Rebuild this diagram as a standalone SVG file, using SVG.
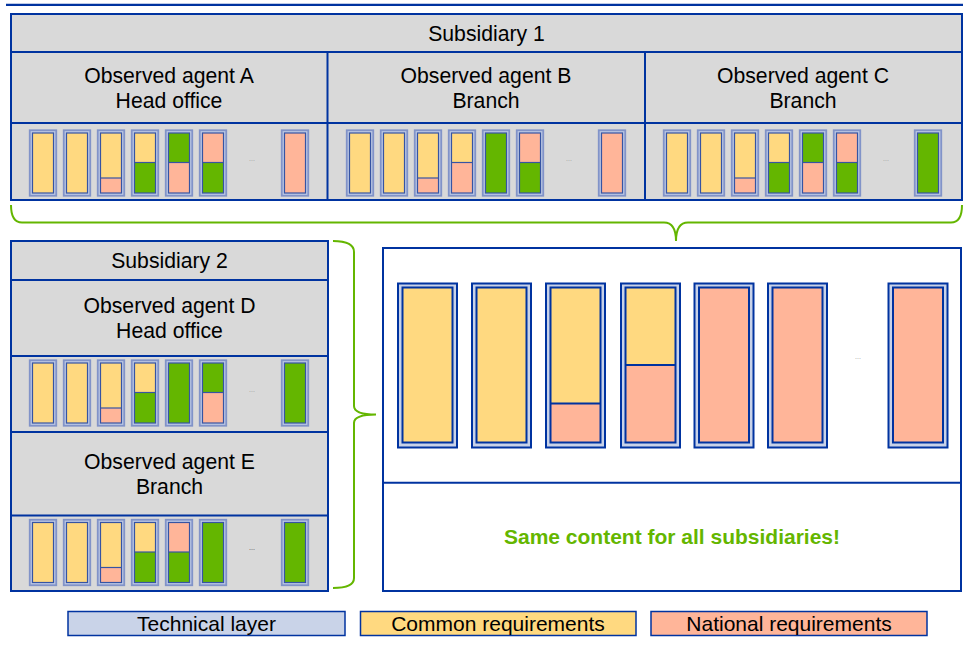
<svg xmlns="http://www.w3.org/2000/svg" xmlns:xlink="http://www.w3.org/1999/xlink" width="963" height="657" viewBox="0 0 963 657">
<style>
.box{fill:#d9d9d9;stroke:#0033a0;stroke-width:2}
.ln{stroke:#0033a0;stroke-width:2;fill:none}
.t{font-family:"Liberation Sans",Arial,sans-serif;font-size:21.2px;fill:#000;text-anchor:middle}
.lg{font-family:"Liberation Sans",Arial,sans-serif;font-size:21px;fill:#000;text-anchor:middle}
.so{fill:#bcc8e4;stroke:#8193c8;stroke-width:1.8}
.si{fill:none;stroke:#3654a3;stroke-width:1.2}
.bo{fill:#c8d2e8;stroke:#0033a0;stroke-width:2}
.bi{fill:none;stroke:#0033a0;stroke-width:2}
.y{fill:#ffd980}.p{fill:#ffb599}.g{fill:#64b600}
.br{fill:none;stroke:#64b600;stroke-width:2}
.dots{font-family:"Liberation Sans",Arial,sans-serif;font-size:7px;fill:#999;text-anchor:middle}
</style>
<defs>
<symbol id="sY" overflow="visible"><rect class="so" x="0.75" y="0.75" width="26.5" height="65.5"/><rect class="y" x="3.5" y="3.5" width="21" height="60"/><rect class="si" x="3.5" y="3.5" width="21" height="60"/></symbol>
<symbol id="sG" overflow="visible"><rect class="so" x="0.75" y="0.75" width="26.5" height="65.5"/><rect class="g" x="3.5" y="3.5" width="21" height="60"/><rect class="si" x="3.5" y="3.5" width="21" height="60"/></symbol>
<symbol id="sP" overflow="visible"><rect class="so" x="0.75" y="0.75" width="26.5" height="65.5"/><rect class="p" x="3.5" y="3.5" width="21" height="60"/><rect class="si" x="3.5" y="3.5" width="21" height="60"/></symbol>
<symbol id="sYP" overflow="visible"><rect class="so" x="0.75" y="0.75" width="26.5" height="65.5"/><rect class="y" x="3.5" y="3.5" width="21" height="45"/><rect class="p" x="3.5" y="48.5" width="21" height="15"/><rect class="si" x="3.5" y="3.5" width="21" height="60"/><line class="si" x1="3.5" y1="48.5" x2="24.5" y2="48.5"/></symbol>
<symbol id="sYG" overflow="visible"><rect class="so" x="0.75" y="0.75" width="26.5" height="65.5"/><rect class="y" x="3.5" y="3.5" width="21" height="29.5"/><rect class="g" x="3.5" y="33" width="21" height="30.5"/><rect class="si" x="3.5" y="3.5" width="21" height="60"/><line class="si" x1="3.5" y1="33" x2="24.5" y2="33"/></symbol>
<symbol id="sYPh" overflow="visible"><rect class="so" x="0.75" y="0.75" width="26.5" height="65.5"/><rect class="y" x="3.5" y="3.5" width="21" height="29.5"/><rect class="p" x="3.5" y="33" width="21" height="30.5"/><rect class="si" x="3.5" y="3.5" width="21" height="60"/><line class="si" x1="3.5" y1="33" x2="24.5" y2="33"/></symbol>
<symbol id="sGP" overflow="visible"><rect class="so" x="0.75" y="0.75" width="26.5" height="65.5"/><rect class="g" x="3.5" y="3.5" width="21" height="29.5"/><rect class="p" x="3.5" y="33" width="21" height="30.5"/><rect class="si" x="3.5" y="3.5" width="21" height="60"/><line class="si" x1="3.5" y1="33" x2="24.5" y2="33"/></symbol>
<symbol id="sPG" overflow="visible"><rect class="so" x="0.75" y="0.75" width="26.5" height="65.5"/><rect class="p" x="3.5" y="3.5" width="21" height="29.5"/><rect class="g" x="3.5" y="33" width="21" height="30.5"/><rect class="si" x="3.5" y="3.5" width="21" height="60"/><line class="si" x1="3.5" y1="33" x2="24.5" y2="33"/></symbol>
<symbol id="bY" overflow="visible"><rect class="bo" x="1" y="1" width="59" height="164"/><rect class="y" x="5.5" y="5" width="50" height="155"/><rect class="bi" x="5.5" y="5" width="50" height="155"/></symbol>
<symbol id="bP" overflow="visible"><rect class="bo" x="1" y="1" width="59" height="164"/><rect class="p" x="5.5" y="5" width="50" height="155"/><rect class="bi" x="5.5" y="5" width="50" height="155"/></symbol>
<symbol id="bYP" overflow="visible"><rect class="bo" x="1" y="1" width="59" height="164"/><rect class="y" x="5.5" y="5" width="50" height="116"/><rect class="p" x="5.5" y="121" width="50" height="39"/><rect class="bi" x="5.5" y="5" width="50" height="155"/><line class="bi" x1="5.5" y1="121" x2="55.5" y2="121"/></symbol>
<symbol id="bYPh" overflow="visible"><rect class="bo" x="1" y="1" width="59" height="164"/><rect class="y" x="5.5" y="5" width="50" height="77.5"/><rect class="p" x="5.5" y="82.5" width="50" height="77.5"/><rect class="bi" x="5.5" y="5" width="50" height="155"/><line class="bi" x1="5.5" y1="82.5" x2="55.5" y2="82.5"/></symbol>
</defs>
<rect width="963" height="657" fill="#fff"/>
<line x1="6" y1="4.8" x2="963" y2="4.8" stroke="#0033a0" stroke-width="2.2"/>

<g id="subsidiary1">
<rect class="box" x="11" y="14" width="951" height="186"/>
<line class="ln" x1="11" y1="52" x2="962" y2="52"/>
<line class="ln" x1="11" y1="123" x2="962" y2="123"/>
<line class="ln" x1="327.5" y1="52" x2="327.5" y2="200"/>
<line class="ln" x1="645" y1="52" x2="645" y2="200"/>
<text class="t" x="486.5" y="41">Subsidiary 1</text>
</g>
<g id="agentA">
<text class="t" x="169" y="82.5">Observed agent A</text>
<text class="t" x="169" y="108">Head office</text>
<use href="#sY" x="29" y="129.5"/><use href="#sY" x="63" y="129.5"/><use href="#sYP" x="97" y="129.5"/><use href="#sYG" x="131" y="129.5"/><use href="#sGP" x="165" y="129.5"/><use href="#sPG" x="199" y="129.5"/><use href="#sP" x="281" y="129.5"/>
<text class="dots" x="252" y="161">...</text>
</g>
<g id="agentB">
<text class="t" x="486" y="82.5">Observed agent B</text>
<text class="t" x="486" y="108">Branch</text>
<use href="#sY" x="346" y="129.5"/><use href="#sY" x="380" y="129.5"/><use href="#sYP" x="414" y="129.5"/><use href="#sYPh" x="448" y="129.5"/><use href="#sG" x="482" y="129.5"/><use href="#sPG" x="516" y="129.5"/><use href="#sP" x="598" y="129.5"/>
<text class="dots" x="569" y="161">...</text>
</g>
<g id="agentC">
<text class="t" x="803" y="82.5">Observed agent C</text>
<text class="t" x="803" y="108">Branch</text>
<use href="#sY" x="663" y="129.5"/><use href="#sY" x="697" y="129.5"/><use href="#sYP" x="731" y="129.5"/><use href="#sYG" x="765" y="129.5"/><use href="#sGP" x="799" y="129.5"/><use href="#sPG" x="833" y="129.5"/><use href="#sG" x="914" y="129.5"/>
<text class="dots" x="886" y="161">...</text>
</g>

<g id="subsidiary2">
<rect class="box" x="11" y="241" width="317" height="350"/>
<line class="ln" x1="11" y1="280" x2="328" y2="280"/>
<line class="ln" x1="11" y1="356" x2="328" y2="356"/>
<line class="ln" x1="11" y1="432" x2="328" y2="432"/>
<line class="ln" x1="11" y1="515.5" x2="328" y2="515.5"/>
<text class="t" x="169.5" y="268">Subsidiary 2</text>
</g>
<g id="agentD">
<text class="t" x="169.5" y="312.5">Observed agent D</text>
<text class="t" x="169.5" y="337.5">Head office</text>
<use href="#sY" x="29" y="359.5"/><use href="#sY" x="63" y="359.5"/><use href="#sYP" x="97" y="359.5"/><use href="#sYG" x="131" y="359.5"/><use href="#sG" x="165" y="359.5"/><use href="#sGP" x="199" y="359.5"/><use href="#sG" x="281" y="359.5"/>
<text class="dots" x="252" y="392">...</text>
</g>
<g id="agentE">
<text class="t" x="169.5" y="469">Observed agent E</text>
<text class="t" x="169.5" y="494">Branch</text>
<use href="#sY" x="29" y="519"/><use href="#sY" x="63" y="519"/><use href="#sYP" x="97" y="519"/><use href="#sYG" x="131" y="519"/><use href="#sPG" x="165" y="519"/><use href="#sG" x="199" y="519"/><use href="#sG" x="281" y="519"/>
<text class="dots" x="252" y="550" style="fill:#444">...</text>
</g>

<g id="common-content">
<rect x="383" y="248" width="578" height="343" fill="#fff" stroke="#0033a0" stroke-width="2"/>
<line class="ln" x1="383" y1="482.7" x2="961" y2="482.7"/>
<use href="#bY" x="397" y="282.5"/><use href="#bY" x="471" y="282.5"/><use href="#bYP" x="545" y="282.5"/><use href="#bYPh" x="620" y="282.5"/><use href="#bP" x="693.5" y="282.5"/><use href="#bP" x="767" y="282.5"/><use href="#bP" x="887.5" y="282.5"/>
<text class="dots" x="858" y="359">...</text>
<text x="672" y="544" font-family="Liberation Sans, Arial, sans-serif" font-size="21" font-weight="bold" fill="#64b600" text-anchor="middle">Same content for all subsidiaries!</text>
</g>

<g id="connectors">
<path class="br" d="M11 205 Q11 222.5 22 222.5 L664 222.5 Q676 222.5 676 241 Q676 222.5 688 222.5 L951 222.5 Q962 222.5 962 205"/>
<path class="br" d="M333 241 Q354 241 354 252 L354 406 Q354 414.5 376 414.5 Q354 414.5 354 423 L354 578 Q354 588 333 588"/>
</g>

<g id="legend">
<rect x="68" y="611.5" width="277" height="24" fill="#c9d3e8" stroke="#0033a0" stroke-width="1.5"/>
<text class="lg" x="206.5" y="631">Technical layer</text>
<rect x="360.5" y="611.5" width="275.5" height="24" fill="#ffd980" stroke="#0033a0" stroke-width="1.5"/>
<text class="lg" x="498" y="631">Common requirements</text>
<rect x="651" y="611.5" width="276" height="24" fill="#ffb599" stroke="#0033a0" stroke-width="1.5"/>
<text class="lg" x="789" y="631">National requirements</text>
</g>
</svg>
